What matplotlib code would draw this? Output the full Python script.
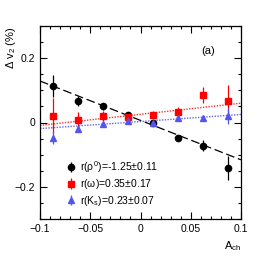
import matplotlib
matplotlib.use("Agg")
import matplotlib.pyplot as plt
import numpy as np
from matplotlib.ticker import MultipleLocator, FuncFormatter

plt.rcParams['font.family'] = ['Liberation Sans', 'DejaVu Sans']
plt.rcParams['mathtext.fontset'] = 'custom'
plt.rcParams['mathtext.rm'] = 'Liberation Sans'
plt.rcParams['mathtext.it'] = 'Liberation Sans'

x = [-0.0875, -0.0625, -0.0375, -0.0125, 0.0125, 0.0375, 0.0625, 0.0875]

rho_y = [0.113, 0.067, 0.050, 0.022, -0.003, -0.048, -0.072, -0.142]
rho_err = [0.034, 0.015, 0.010, 0.008, 0.008, 0.010, 0.017, 0.037]

omega_y = [0.021, 0.007, 0.021, 0.017, 0.024, 0.032, 0.085, 0.066]
omega_err = [0.055, 0.025, 0.015, 0.010, 0.012, 0.015, 0.025, 0.050]

ks_y = [-0.047, -0.021, -0.006, 0.006, -0.001, 0.014, 0.014, 0.019]
ks_err = [0.020, 0.010, 0.007, 0.006, 0.006, 0.008, 0.010, 0.025]

# linear fits: (intercept, slope)
rho_fit = (0.0065, -1.225)
omega_fit = (0.0255, 0.345)
ks_fit = (0.003, 0.22)

labels = [r'r($\rho^0$)=-1.25$\pm$0.11', r'r($\omega$)=0.35$\pm$0.17', r'r(K$_s$)=0.23$\pm$0.07']

fig = plt.figure(figsize=(2.68, 2.58), dpi=100)
ax = fig.add_axes([40/268, 1-219/258, 201/268, 193/258])

xl = np.array([-0.1, 0.1])
ax.plot(xl, rho_fit[0] + rho_fit[1]*xl, color='black', ls=(0, (7, 3)), lw=0.9)
ax.plot(xl, omega_fit[0] + omega_fit[1]*xl, color='#ff3030', ls=(0, (1, 1)), lw=1.0)
ax.plot(xl, ks_fit[0] + ks_fit[1]*xl, color='#6666ee', ls=(0, (1, 1)), lw=1.0)

h1 = ax.errorbar(x, rho_y, yerr=rho_err, fmt='o', color='black', ms=4.5, elinewidth=0.9, capsize=0)
h2 = ax.errorbar(x, omega_y, yerr=omega_err, fmt='s', color='#ff0000', ms=4.5, elinewidth=0.9, capsize=0)
h3 = ax.errorbar(x, ks_y, yerr=ks_err, fmt='^', color='#5555ee', ms=4.0, elinewidth=0.9, capsize=0)

ax.set_xlim(-0.1, 0.1)
ax.set_ylim(-0.3, 0.3)
ax.xaxis.set_major_locator(MultipleLocator(0.05))
ax.xaxis.set_minor_locator(MultipleLocator(0.01))
ax.yaxis.set_major_locator(MultipleLocator(0.2))
ax.yaxis.set_minor_locator(MultipleLocator(0.05))

def fmt(v, pos):
    if abs(v) < 1e-9:
        return '0'
    s = ('%g' % v).replace('-', '\u2212')
    return s
ax.xaxis.set_major_formatter(FuncFormatter(fmt))
ax.yaxis.set_major_formatter(FuncFormatter(fmt))
ax.tick_params(which='both', direction='in', top=True, right=True, labelsize=7.5, width=0.8)
ax.tick_params(which='major', length=5)
ax.tick_params(which='minor', length=2.5)
for s in ax.spines.values():
    s.set_linewidth(0.9)

ax.set_xlabel(r'A$_{\rm ch}$', fontsize=8, loc='right')
fig.text(11/268, 1-48/258, r'$\Delta$ v$_2$ (%)', fontsize=8, rotation=90, ha='center', va='center')
ax.text(0.067, 0.222, '(a)', fontsize=8, ha='center', va='center')

leg = ax.legend([h1, h2, h3], labels, loc='lower left', bbox_to_anchor=(0.09, 0.02),
                frameon=False, fontsize=7.5, handlelength=1.0, handletextpad=0.4,
                labelspacing=0.25, borderpad=0.2)

fig.savefig('out.png', dpi=100)
